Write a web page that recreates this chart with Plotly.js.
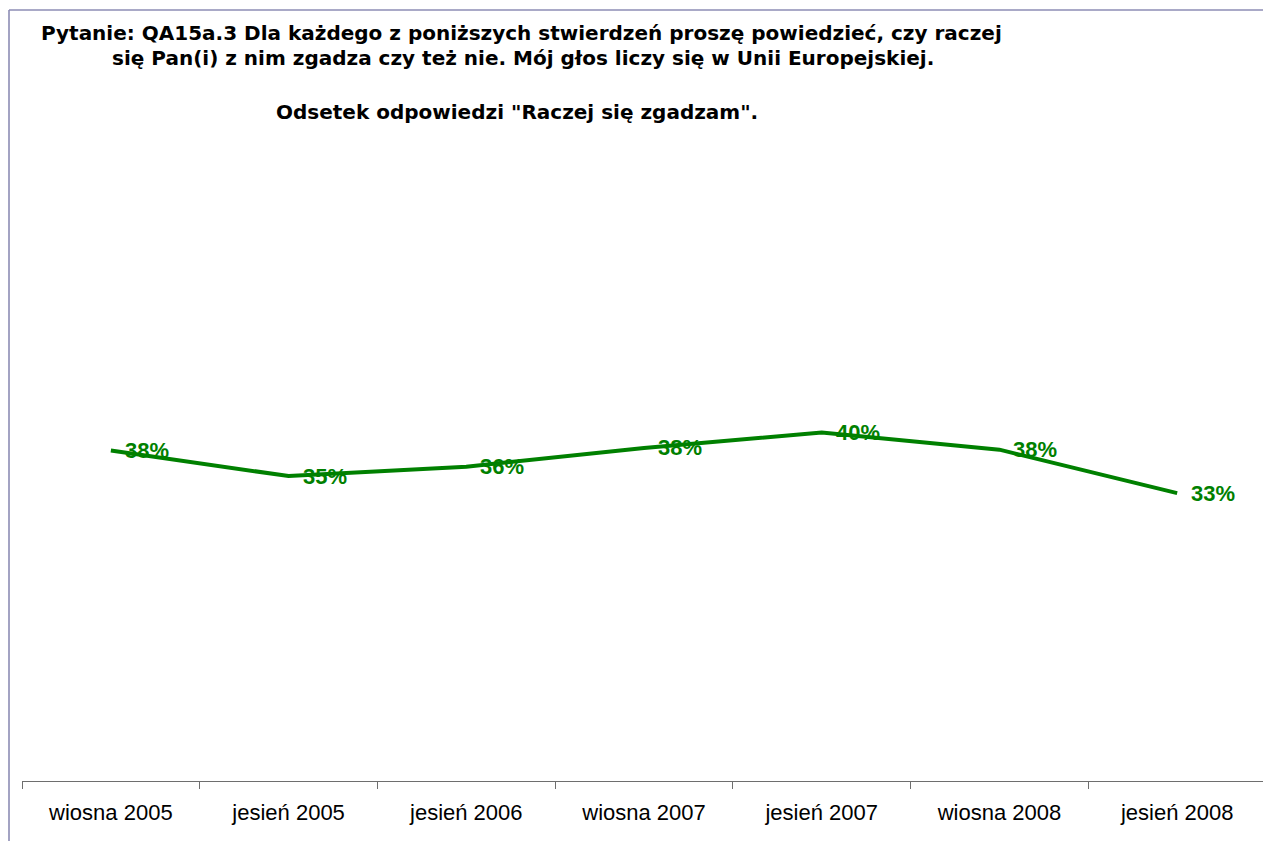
<!DOCTYPE html>
<html>
<head>
<meta charset="utf-8">
<script src="https://cdn.plot.ly/plotly-3.0.1.min.js"></script>
<style>html,body{margin:0;padding:0;background:#fff;}#chart{width:1263px;height:841px;}</style>
</head>
<body>
<div id="chart"></div>
<script>
// ---- data ----
const categories = ["wiosna 2005", "jesień 2005", "jesień 2006", "wiosna 2007", "jesień 2007", "wiosna 2008", "jesień 2008"];
const values = [38.0, 35.0, 36.1, 38.3, 40.1, 38.1, 33.0];
const valueLabels = ["38%", "35%", "36%", "38%", "40%", "38%", "33%"];
const titleLine1 = "Pytanie: QA15a.3 Dla każdego z poniższych stwierdzeń proszę powiedzieć, czy raczej";
const titleLine2 = "się Pan(i) z nim zgadza czy też nie. Mój głos liczy się w Unii Europejskiej.";
const subtitle = "Odsetek odpowiedzi \"Raczej się zgadzam\".";

// ---- layout geometry ----
const W = 1263, H = 841;
const M = {l: 22, r: 0, t: 263, b: 60};
const plotW = W - M.l - M.r, plotH = H - M.t - M.b;
const px2x = p => (p - M.l) / plotW;
const px2y = p => (H - M.b - p) / plotH;

const green = "#008000";
const annFont = {family: "'DejaVu Sans', Verdana, sans-serif", size: 20, color: "#000"};

const annotations = [
  {xref: "paper", yref: "paper", x: px2x(521), y: px2y(32.5), xanchor: "center", yanchor: "middle",
   text: "<b>" + titleLine1 + "</b>", showarrow: false, font: annFont},
  {xref: "paper", yref: "paper", x: px2x(522.5), y: px2y(57.5), xanchor: "center", yanchor: "middle",
   text: "<b>" + titleLine2 + "</b>", showarrow: false, font: annFont},
  {xref: "paper", yref: "paper", x: px2x(516.5), y: px2y(112), xanchor: "center", yanchor: "middle",
   text: "<b>" + subtitle + "</b>", showarrow: false, font: annFont}
];
categories.forEach((c, i) => {
  annotations.push({
    x: c, y: values[i], xref: "x", yref: "y", text: "<b>" + valueLabels[i] + "</b>",
    showarrow: false, xanchor: "left", yanchor: "middle", xshift: 12, yshift: 0,
    font: {family: "'Liberation Sans', Arial, sans-serif", size: 22, color: green}
  });
});

const trace = {
  x: categories, y: values, type: "scatter", mode: "lines",
  line: {color: green, width: 4}, hoverinfo: "skip"
};

const layout = {
  width: W, height: H,
  margin: M,
  paper_bgcolor: "#fff", plot_bgcolor: "rgba(0,0,0,0)",
  showlegend: false,
  xaxis: {
    type: "category", range: [-0.5, 6.483], fixedrange: true,
    showline: true, linecolor: "#6e6e6e", linewidth: 1,
    ticks: "outside", ticklen: 7, tickcolor: "#6e6e6e", tickwidth: 1,
    tickson: "boundaries", showgrid: false, zeroline: false,
    tickfont: {family: "'Liberation Sans', Arial, sans-serif", size: 22, color: "#000"},
    ticklabelstandoff: 12
  },
  yaxis: {range: [-0.77, 60], visible: false, showgrid: false, zeroline: false, fixedrange: true},
  annotations: annotations,
  shapes: [
    {type: "line", xref: "paper", yref: "paper", x0: px2x(9), x1: px2x(1300), y0: px2y(10), y1: px2y(10),
     line: {color: "#8c8cb4", width: 1.6}},
    {type: "line", xref: "paper", yref: "paper", x0: px2x(9), x1: px2x(9), y0: px2y(10), y1: px2y(900),
     line: {color: "#8c8cb4", width: 1.6}}
  ]
};

Plotly.newPlot("chart", [trace], layout, {displayModeBar: false, staticPlot: true});
</script>
</body>
</html>
